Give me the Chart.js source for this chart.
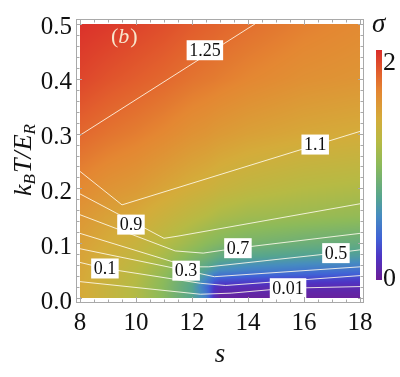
<!DOCTYPE html>
<html>
<head>
<meta charset="utf-8">
<script src="https://cdn.jsdelivr.net/npm/chart.js@4.4.0/dist/chart.umd.min.js"></script>
<style>
  html, body { margin: 0; padding: 0; background: #fff; }
</style>
</head>
<body>
<canvas id="chart" width="400" height="377"></canvas>
<script>
// sigma, rows = temperature, columns = s
const sValues = [8, 9, 10, 11, 12, 12.5, 12.8, 13, 14, 16, 18];
const tValues = [0, 0.02, 0.035, 0.05, 0.075, 0.1, 0.15, 0.2, 0.3, 0.4, 0.5];
const sigma = [
  [1.42, 1.30, 1.18, 0.98, 0.72, 0.50, 0.15, 0.04, 0.03, 0.03, 0.03],
  [1.42, 1.30, 1.18, 0.98, 0.72, 0.42, 0.20, 0.14, 0.13, 0.12, 0.12],
  [1.43, 1.32, 1.20, 1.00, 0.76, 0.55, 0.38, 0.33, 0.30, 0.27, 0.25],
  [1.44, 1.33, 1.22, 1.05, 0.82, 0.68, 0.60, 0.55, 0.50, 0.45, 0.42],
  [1.46, 1.36, 1.27, 1.13, 0.95, 0.88, 0.82, 0.78, 0.72, 0.68, 0.65],
  [1.48, 1.40, 1.32, 1.20, 1.07, 1.00, 0.97, 0.95, 0.90, 0.84, 0.80],
  [1.54, 1.47, 1.42, 1.33, 1.24, 1.20, 1.17, 1.15, 1.10, 1.07, 1.04],
  [1.62, 1.56, 1.52, 1.45, 1.38, 1.35, 1.33, 1.31, 1.26, 1.20, 1.17],
  [1.77, 1.72, 1.68, 1.63, 1.57, 1.55, 1.53, 1.52, 1.48, 1.43, 1.40],
  [1.90, 1.85, 1.81, 1.77, 1.72, 1.70, 1.69, 1.68, 1.64, 1.58, 1.55],
  [1.98, 1.95, 1.91, 1.87, 1.82, 1.80, 1.79, 1.78, 1.74, 1.67, 1.62]
];
const sigmaMax = 2;

// contour lines as [s, T] points
const contourLevels = ['1.25', '1.1', '0.9', '0.7', '0.5', '0.3', '0.1', '0.01'];
const contour125 = [[8, 0.297], [14.25, 0.5]];
const contour110 = [[8, 0.231], [9.5, 0.170], [18, 0.304]];
const contour090 = [[8, 0.190], [11, 0.109], [11.5, 0.113], [18, 0.172]];
const contour070 = [[8, 0.152], [11.4, 0.086], [12.4, 0.082], [13.6, 0.091], [18, 0.118]];
const contour050 = [[8, 0.118], [11.9, 0.057], [12.6, 0.057], [17.1, 0.082], [18, 0.088]];
const contour030 = [[8, 0.090], [11.8, 0.050], [12.8, 0.039], [18, 0.057]];
const contour010 = [[8, 0.065], [8.9, 0.054], [12.3, 0.027], [13.2, 0.023], [18, 0.041]];
const contour001 = [[8, 0.030], [12.3, 0.007], [13.4, 0.009], [15.4, 0.018], [18, 0.021]];
const contours = [contour125, contour110, contour090, contour070, contour050, contour030, contour010, contour001];
// where each level's label sits
const labelS = [12.46, 16.4, 9.82, 13.64, 17.14, 11.79, 8.89, 15.43];
const labelT = [0.452, 0.28, 0.134, 0.091, 0.082, 0.050, 0.054, 0.018];

const xTicks = [8, 10, 12, 14, 16, 18];
const yTicks = [0, 0.1, 0.2, 0.3, 0.4, 0.5];

// rainbow-like colour scale, 0 -> purple, 1 -> red
const stops = [
  [0.00, [108, 30, 150]],
  [0.10, [78, 52, 196]],
  [0.18, [64, 98, 214]],
  [0.28, [70, 140, 192]],
  [0.36, [86, 165, 142]],
  [0.50, [140, 186, 90]],
  [0.60, [182, 186, 68]],
  [0.70, [212, 172, 58]],
  [0.82, [228, 135, 50]],
  [0.90, [226, 96, 45]],
  [1.00, [218, 44, 42]]
];
function colorFor(t) {
  t = Math.max(0, Math.min(1, t));
  for (let i = 1; i < stops.length; i++) {
    if (t <= stops[i][0]) {
      const [t0, c0] = stops[i - 1], [t1, c1] = stops[i];
      const f = (t - t0) / (t1 - t0);
      return c0.map((c, k) => Math.round(c + (c1[k] - c) * f));
    }
  }
  return stops[stops.length - 1][1];
}

function findCell(arr, v) {
  let i = 0;
  while (i < arr.length - 2 && v > arr[i + 1]) i++;
  const f = Math.max(0, Math.min(1, (v - arr[i]) / (arr[i + 1] - arr[i])));
  return [i, f];
}
function sigmaAt(s, t) {
  const [i, fx] = findCell(sValues, s);
  const [j, fy] = findCell(tValues, t);
  const a = sigma[j][i], b = sigma[j][i + 1], c = sigma[j + 1][i], d = sigma[j + 1][i + 1];
  return (a * (1 - fx) + b * fx) * (1 - fy) + (c * (1 - fx) + d * fx) * fy;
}

const serif = '"Liberation Serif", "DejaVu Serif", serif';

const densityPlugin = {
  id: 'density',
  beforeDatasetsDraw(chart) {
    const { ctx, scales: { x, y } } = chart;
    const x0 = Math.round(x.getPixelForValue(sValues[0]));
    const x1 = Math.round(x.getPixelForValue(sValues[sValues.length - 1]));
    const y0 = Math.round(y.getPixelForValue(tValues[tValues.length - 1]));
    const y1 = Math.round(y.getPixelForValue(tValues[0]));
    const w = x1 - x0, h = y1 - y0;
    const img = ctx.createImageData(w, h);
    for (let j = 0; j < h; j++) {
      const t = y.getValueForPixel(y0 + j + 0.5);
      for (let i = 0; i < w; i++) {
        const s = x.getValueForPixel(x0 + i + 0.5);
        const c = colorFor(sigmaAt(s, t) / sigmaMax);
        const p = (j * w + i) * 4;
        img.data[p] = c[0]; img.data[p + 1] = c[1]; img.data[p + 2] = c[2]; img.data[p + 3] = 255;
      }
    }
    ctx.putImageData(img, x0, y0);
  }
};

const labelPlugin = {
  id: 'contourLabels',
  afterDatasetsDraw(chart) {
    const { ctx, scales: { x, y } } = chart;
    ctx.save();
    ctx.font = '18px ' + serif;
    ctx.textAlign = 'center';
    ctx.textBaseline = 'middle';
    contourLevels.forEach((txt, i) => {
      const px = x.getPixelForValue(labelS[i]), py = y.getPixelForValue(labelT[i]);
      const w = ctx.measureText(txt).width + 5;
      ctx.fillStyle = '#fff';
      ctx.fillRect(px - w / 2, py - 10, w, 20);
      ctx.fillStyle = '#111';
      ctx.fillText(txt, px, py + 1);
    });
    ctx.restore();
  }
};

function drawPieces(ctx, pieces, x, y) {
  let cx = x;
  pieces.forEach(p => {
    ctx.font = p.font;
    ctx.fillText(p.text, cx, y + (p.dy || 0));
    cx += ctx.measureText(p.text).width + (p.gap || 0);
  });
  return cx - x;
}

const framePlugin = {
  id: 'frame',
  afterDraw(chart) {
    const { ctx, chartArea: a, scales: { x, y } } = chart;
    ctx.save();
    ctx.strokeStyle = '#a9a9a9';
    ctx.lineWidth = 1;
    ctx.strokeRect(a.left + 0.5, a.top + 0.5, a.right - a.left - 1, a.bottom - a.top - 1);
    ctx.beginPath();
    for (let v = 8; v <= 18.001; v += 0.5) {
      const px = Math.round(x.getPixelForValue(v)) + 0.5;
      const len = Math.abs(v % 2) < 1e-6 ? 6 : 3.5;
      ctx.moveTo(px, a.bottom); ctx.lineTo(px, a.bottom - len);
      ctx.moveTo(px, a.top); ctx.lineTo(px, a.top + len);
    }
    for (let k = 0; k <= 25; k++) {
      const py = Math.round(y.getPixelForValue(k * 0.02)) + 0.5;
      const len = k % 5 === 0 ? 6 : 3.5;
      ctx.moveTo(a.left, py); ctx.lineTo(a.left + len, py);
      ctx.moveTo(a.right, py); ctx.lineTo(a.right - len, py);
    }
    ctx.stroke();

    // colour bar
    const barTop = 50, barBottom = 280;
    for (let py = barTop; py < barBottom; py++) {
      const c = colorFor(1 - (py - barTop + 0.5) / (barBottom - barTop));
      ctx.fillStyle = 'rgb(' + c.join(',') + ')';
      ctx.fillRect(376, py, 6, 1);
    }
    ctx.fillStyle = '#111';
    ctx.textBaseline = 'alphabetic';
    ctx.font = '26px ' + serif;
    ctx.fillText('2', 383, 70);
    ctx.fillText('0', 383, 286);
    ctx.font = 'italic 27px ' + serif;
    ctx.fillText('\u03C3', 372, 32);

    // y axis title with subscripts
    const big = 'italic 26px ' + serif, small = 'italic 17px ' + serif;
    const pieces = [
      { text: 'k', font: big },
      { text: 'B', font: small, dy: 4, gap: 1 },
      { text: 'T', font: big },
      { text: '/', font: big, gap: 1 },
      { text: 'E', font: big },
      { text: 'R', font: small, dy: 4 }
    ];
    ctx.translate(31, 160);
    ctx.rotate(-Math.PI / 2);
    ctx.globalAlpha = 0;
    const total = drawPieces(ctx, pieces, 0, 0);
    ctx.globalAlpha = 1;
    drawPieces(ctx, pieces, -total / 2, 0);
    ctx.restore();

    // panel tag
    ctx.save();
    ctx.fillStyle = '#f8e6cc';
    drawPieces(ctx, [
      { text: '(', font: '22px ' + serif },
      { text: 'b', font: 'italic 22px ' + serif, gap: 1 },
      { text: ')', font: '22px ' + serif }
    ], 111, 43);
    ctx.restore();
  }
};

const datasets = contours.map((pts, i) => ({
  label: contourLevels[i],
  data: pts.map(([s, t]) => ({ x: s, y: t })),
  showLine: true,
  borderColor: 'rgba(255, 250, 236, 0.85)',
  borderWidth: 1,
  pointRadius: 0,
  fill: false
}));

new Chart(document.getElementById('chart'), {
  type: 'scatter',
  data: { datasets },
  options: {
    responsive: false,
    animation: false,
    devicePixelRatio: 1,
    layout: { padding: { top: 14, right: 36, left: 0, bottom: 0 } },
    plugins: { legend: { display: false }, tooltip: { enabled: false } },
    scales: {
      x: {
        type: 'linear',
        min: 8 - 4 / 28,
        max: 18 + 4 / 28,
        afterBuildTicks: s => { s.ticks = xTicks.map(v => ({ value: v })); },
        afterFit: s => { s.height = 74; },
        grid: { display: false, drawTicks: false, tickLength: 0 },
        border: { display: false },
        ticks: { autoSkip: false, maxRotation: 0, padding: 5, color: '#111', font: { family: serif, size: 25 }, callback: v => String(v) },
        title: { display: true, text: 's', color: '#111', font: { family: serif, size: 27, style: 'italic' }, padding: { top: 0, bottom: 6 } }
      },
      y: {
        type: 'linear',
        min: -5 / 558,
        max: 0.5 + 5 / 558,
        afterBuildTicks: s => { s.ticks = yTicks.map(v => ({ value: v })); },
        afterFit: s => { s.width = 76; },
        grid: { display: false, drawTicks: false, tickLength: 0 },
        border: { display: false },
        ticks: { autoSkip: false, padding: 4, labelOffset: 4, color: '#111', font: { family: serif, size: 25 }, callback: v => v.toFixed(1) }
      }
    }
  },
  plugins: [densityPlugin, labelPlugin, framePlugin]
});
</script>
</body>
</html>
